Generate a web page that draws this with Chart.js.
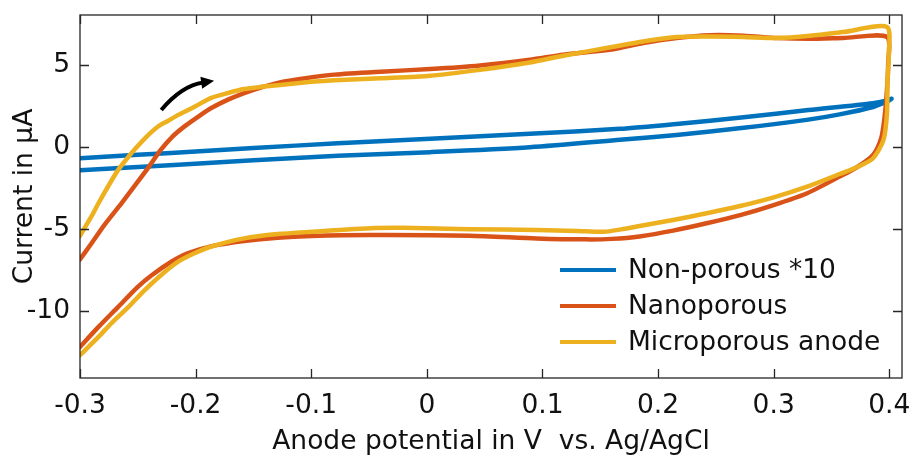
<!DOCTYPE html>
<html>
<head>
<meta charset="utf-8">
<script src="https://cdn.jsdelivr.net/npm/chart.js@4.4.1/dist/chart.umd.min.js"></script>
<style>
  html, body { margin: 0; padding: 0; background: #fff; }
  #wrap { width: 919px; height: 457px; }
</style>
</head>
<body>
<div id="wrap"><canvas id="cvChart" width="919" height="457"></canvas></div>
<script>
const seriesLabels = ['Non-porous *10', 'Nanoporous', 'Microporous anode'];
const seriesColors = ['#0072BD', '#D95319', '#EDB120'];

// non-porous electrode (current x10): anodic sweep out to 0.4 V, then back
const nonPorousV = [-0.3, -0.25, -0.2, -0.15, -0.077, 0.003, 0.089, 0.167, 0.216, 0.274, 0.33, 0.386, 0.398, 0.402,
                    0.398, 0.386, 0.357, 0.33, 0.274, 0.216, 0.167, 0.089, 0.003, -0.077, -0.15, -0.215, -0.3];
const nonPorousI = [-0.67, -0.46, -0.26, -0.05, 0.24, 0.52, 0.82, 1.12, 1.42, 1.82, 2.26, 2.68, 2.85, 2.95,
                    2.78, 2.45, 2.0, 1.68, 1.18, 0.75, 0.45, 0.0, -0.3, -0.52, -0.8, -1.06, -1.4];

// nanoporous electrode
const nanoV = [-0.3, -0.29, -0.279, -0.264, -0.25, -0.24, -0.23, -0.22, -0.209, -0.197, -0.186, -0.172, -0.158, -0.143,
               -0.129, -0.105, -0.08, -0.04, 0.003, 0.046, 0.089, 0.118, 0.16, 0.187, 0.216, 0.245, 0.274, 0.303, 0.33,
               0.36, 0.398,
               0.399, 0.398, 0.396, 0.393, 0.386, 0.372, 0.357, 0.329, 0.3, 0.271, 0.242, 0.213, 0.184, 0.16, 0.138,
               0.095, 0.037, -0.049, -0.1, -0.129, -0.158, -0.186, -0.207, -0.221, -0.238, -0.25, -0.267, -0.284, -0.3];
const nanoI = [-6.83, -5.85, -4.74, -3.4, -2.1, -1.15, -0.15, 0.65, 1.3, 1.9, 2.4, 2.9, 3.3, 3.65,
               3.92, 4.2, 4.42, 4.6, 4.76, 4.98, 5.32, 5.63, 5.95, 6.34, 6.65, 6.82, 6.79, 6.65, 6.6,
               6.65, 6.71,
               5.0, 3.5, 1.87, 0.55, -0.47, -1.22, -1.79, -2.8, -3.52, -4.13, -4.63, -5.08, -5.43, -5.58, -5.61,
               -5.55, -5.39, -5.35, -5.41, -5.51, -5.71, -6.02, -6.46, -6.97, -7.79, -8.5, -9.72, -10.94, -12.16];

// microporous anode
const microV = [-0.3, -0.29, -0.284, -0.275, -0.267, -0.26, -0.253, -0.243, -0.2325, -0.224, -0.215, -0.2, -0.187,
                -0.172, -0.158, -0.143, -0.129, -0.1, -0.08, -0.04, 0.003, 0.046, 0.089, 0.118, 0.16, 0.187, 0.216,
                0.245, 0.274, 0.303, 0.3315, 0.36, 0.398,
                0.3995, 0.3985, 0.398, 0.395, 0.386, 0.372, 0.357, 0.329, 0.3, 0.271, 0.242, 0.213, 0.184, 0.168,
                0.153, 0.13, 0.095, 0.037, -0.02, -0.045, -0.1, -0.129, -0.158, -0.187, -0.201, -0.215, -0.23,
                -0.244, -0.258, -0.273, -0.284, -0.3];
const microI = [-5.4, -4.2, -3.41, -2.3, -1.38, -0.75, -0.16, 0.6, 1.26, 1.6, 1.97, 2.5, 2.99,
                3.3, 3.54, 3.68, 3.78, 3.98, 4.08, 4.2, 4.35, 4.71, 5.16, 5.57, 6.1, 6.44, 6.71,
                6.74, 6.71, 6.65, 6.79, 7.01, 7.32,
                5.5, 4.1, 2.07, 0.45, -0.67, -1.22, -1.63, -2.4, -3.05, -3.58, -4.02, -4.43, -4.8, -5.0,
                -5.15, -5.1, -5.04, -4.99, -4.9, -4.92, -5.15, -5.29, -5.55, -6.06, -6.46, -6.97, -7.79,
                -8.7, -9.72, -10.73, -11.55, -12.66];

const xTickValues = [-0.3, -0.2, -0.1, 0, 0.1, 0.2, 0.3, 0.4];
const yTickValues = [-10, -5, 0, 5];

const axisColor = '#262626';
const textColor = '#111';
const fontFamily = '"DejaVu Sans", sans-serif';
const fontSize = 26.5;

function toPoints(xs, ys) {
  return xs.map((v, i) => ({ x: v, y: ys[i] }));
}

const curves = [
  toPoints(nonPorousV, nonPorousI),
  toPoints(nanoV, nanoI),
  toPoints(microV, microI)
];

// box around the axes with inward ticks on all four sides
const framePlugin = {
  id: 'frame',
  afterDatasetsDraw(chart) {
    const { ctx, chartArea: a, scales: { x, y } } = chart;
    const len = 9;
    ctx.save();
    ctx.strokeStyle = axisColor;
    ctx.lineWidth = 1.3;
    ctx.strokeRect(a.left, a.top, a.right - a.left, a.bottom - a.top);
    ctx.beginPath();
    xTickValues.forEach(v => {
      const px = Math.round(x.getPixelForValue(v)) + 0.5;
      ctx.moveTo(px, a.bottom); ctx.lineTo(px, a.bottom - len);
      ctx.moveTo(px, a.top); ctx.lineTo(px, a.top + len);
    });
    yTickValues.forEach(v => {
      const py = Math.round(y.getPixelForValue(v)) + 0.5;
      ctx.moveTo(a.left, py); ctx.lineTo(a.left + len, py);
      ctx.moveTo(a.right, py); ctx.lineTo(a.right - len, py);
    });
    ctx.stroke();
    ctx.restore();
  }
};

// curved arrow showing the sweep direction
const arrowPlugin = {
  id: 'sweepArrow',
  afterDatasetsDraw(chart) {
    const { ctx, scales: { x, y } } = chart;
    const tx = x.getPixelForValue(-0.2297), ty = y.getPixelForValue(2.27);
    const cx = x.getPixelForValue(-0.212), cy = y.getPixelForValue(3.75);
    const hx = x.getPixelForValue(-0.184), hy = y.getPixelForValue(4.04);
    const ang = Math.atan2(hy - cy, hx - cx);
    const headLen = 13, headW = 6;
    const bx = hx - headLen * Math.cos(ang), by = hy - headLen * Math.sin(ang);
    ctx.save();
    ctx.strokeStyle = '#000';
    ctx.fillStyle = '#000';
    ctx.lineWidth = 4;
    ctx.beginPath();
    ctx.moveTo(tx, ty);
    ctx.quadraticCurveTo(cx, cy, bx + 2 * Math.cos(ang), by + 2 * Math.sin(ang));
    ctx.stroke();
    ctx.beginPath();
    ctx.moveTo(hx, hy);
    ctx.lineTo(bx + headW * Math.sin(ang), by - headW * Math.cos(ang));
    ctx.lineTo(bx - headW * Math.sin(ang), by + headW * Math.cos(ang));
    ctx.closePath();
    ctx.fill();
    ctx.restore();
  }
};

// legend sits inside the plot, lower right, without a box
const legendPlugin = {
  id: 'innerLegend',
  afterDraw(chart) {
    const { ctx } = chart;
    const x0 = 560, x1 = 616, textX = 628;
    const rows = [270, 306, 342];
    ctx.save();
    ctx.font = fontSize + 'px ' + fontFamily;
    ctx.textBaseline = 'middle';
    ctx.textAlign = 'left';
    seriesLabels.forEach((lbl, i) => {
      ctx.strokeStyle = seriesColors[i];
      ctx.lineWidth = 4;
      ctx.beginPath();
      ctx.moveTo(x0, rows[i]);
      ctx.lineTo(x1, rows[i]);
      ctx.stroke();
      ctx.fillStyle = textColor;
      ctx.fillText(lbl, textX, rows[i] + 1);
    });
    ctx.restore();
  }
};

const ctx = document.getElementById('cvChart').getContext('2d');
new Chart(ctx, {
  type: 'scatter',
  data: {
    datasets: curves.map((pts, i) => ({
      label: seriesLabels[i],
      data: pts,
      showLine: true,
      borderColor: seriesColors[i],
      backgroundColor: seriesColors[i],
      borderWidth: 4.5,
      pointRadius: 0,
      tension: 0.25,
      borderCapStyle: 'round',
      borderJoinStyle: 'round',
      order: 3 - i
    }))
  },
  options: {
    responsive: false,
    animation: false,
    devicePixelRatio: 1,
    layout: { padding: { top: 15, right: 17, left: 0, bottom: 0 } },
    plugins: {
      legend: { display: false },
      tooltip: { enabled: false }
    },
    scales: {
      x: {
        type: 'linear',
        min: -0.3,
        max: 0.411,
        afterBuildTicks: scale => { scale.ticks = xTickValues.map(v => ({ value: v })); },
        afterFit: scale => {
          scale.height = 79;
          scale.paddingLeft = 0;
          scale.paddingRight = 0;
        },
        grid: { display: false, drawTicks: false },
        border: { display: false },
        ticks: {
          color: textColor,
          padding: 12,
          maxRotation: 0,
          font: { family: fontFamily, size: fontSize },
          callback: v => (v === 0 ? '0' : v.toFixed(1))
        },
        title: {
          display: true,
          text: 'Anode potential in V  vs. Ag/AgCl',
          color: textColor,
          font: { family: fontFamily, size: fontSize },
          padding: { top: 0, bottom: -1 }
        }
      },
      y: {
        type: 'linear',
        min: -14.05,
        max: 8.05,
        afterBuildTicks: scale => { scale.ticks = yTickValues.map(v => ({ value: v })); },
        afterFit: scale => {
          scale.width = 80;
          scale.paddingTop = 0;
          scale.paddingBottom = 0;
        },
        grid: { display: false, drawTicks: false },
        border: { display: false },
        ticks: {
          color: textColor,
          padding: 10,
          font: { family: fontFamily, size: fontSize },
          callback: v => String(v)
        },
        title: {
          display: true,
          text: 'Current in µA',
          color: textColor,
          font: { family: fontFamily, size: fontSize },
          padding: { top: 9, bottom: 0 }
        }
      }
    }
  },
  plugins: [framePlugin, arrowPlugin, legendPlugin]
});
</script>
</body>
</html>
